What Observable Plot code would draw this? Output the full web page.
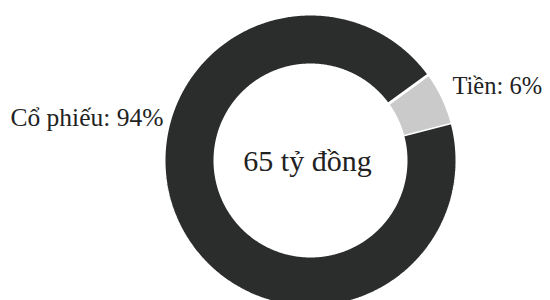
<!DOCTYPE html>
<html>
<head>
<meta charset="utf-8">
<script src="https://cdn.jsdelivr.net/npm/d3@7"></script>
<script src="https://cdn.jsdelivr.net/npm/@observablehq/plot@0.6"></script>
<style>
  html, body { margin: 0; padding: 0; background: #fff; }
  #chart svg { display: block; }
</style>
</head>
<body>
<div id="chart"></div>
<script>
// ---- data ----
const categories = ["Tiền", "Cổ phiếu"];
const shares = [6, 94];
const labelTexts = ["Tiền: 6%", "Cổ phiếu: 94%"];
const centerLabel = "65 tỷ đồng";
const colors = ["#cacaca", "#2b2d2c"];

// ---- layout ----
const W = 550, H = 300;
const cx = 310, cy = 160;           // ring centre in pixels
const rOuter = 146.5, rInner = 95.5;
const startDeg = 54;                // clockwise from 12 o'clock

const rows = categories.map((c, i) => ({name: c, value: shares[i], label: labelTexts[i]}));
const arcs = d3.pie().sort(null).value(d => d.value)
  .startAngle(startDeg * Math.PI / 180)
  .endAngle(startDeg * Math.PI / 180 + 2 * Math.PI)(rows);

// ring outline points per slice (data units = pixels, centre at 0,0, y up)
const ring = [];
for (const a of arcs) {
  const n = Math.max(8, Math.ceil((a.endAngle - a.startAngle) * 180 / Math.PI * 2));
  for (let k = 0; k <= n; k++) {
    const t = a.startAngle + (a.endAngle - a.startAngle) * k / n;
    ring.push({name: a.data.name, x: rOuter * Math.sin(t), y: rOuter * Math.cos(t)});
  }
  for (let k = n; k >= 0; k--) {
    const t = a.startAngle + (a.endAngle - a.startAngle) * k / n;
    ring.push({name: a.data.name, x: rInner * Math.sin(t), y: rInner * Math.cos(t)});
  }
}

// label anchors: polar placement outside the ring
const labelLayout = {
  "Tiền":     {deg: 62.5, r: 160, anchor: "start"},
  "Cổ phiếu": {deg: 286,  r: 153, anchor: "end"}
};
const labels = rows.map(d => {
  const L = labelLayout[d.name], t = L.deg * Math.PI / 180;
  return {...d, x: L.r * Math.sin(t), y: L.r * Math.cos(t), anchor: L.anchor};
});

const chart = Plot.plot({
  width: W, height: H,
  margin: 0,
  x: {domain: [-cx, W - cx], axis: null},
  y: {domain: [cy - H, cy], axis: null},
  color: {domain: categories, range: colors},
  style: {fontFamily: "'Liberation Serif', 'Times New Roman', serif", background: "#fff", color: "#222"},
  marks: [
    Plot.line(ring, {x: "x", y: "y", z: "name", fill: "name", stroke: "#fff", strokeWidth: 3, strokeLinejoin: "miter"}),
    Plot.text(labels.filter(d => d.anchor === "end"), {x: "x", y: "y", text: "label", textAnchor: "end", fontSize: 25.5, fill: "#222"}),
    Plot.text(labels.filter(d => d.anchor === "start"), {x: "x", y: "y", text: "label", textAnchor: "start", fontSize: 24.5, fill: "#222"}),
    Plot.text([centerLabel], {x: () => -3, y: () => -1, text: d => d, fontSize: 30, fill: "#222"})
  ]
});
document.getElementById("chart").appendChild(chart);
</script>
</body>
</html>
